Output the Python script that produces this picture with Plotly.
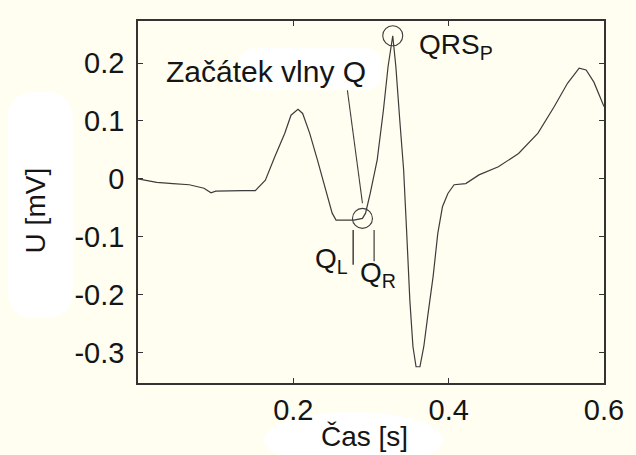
"""ECG detail: QRS onset detection, drawn as a single annotated trace."""

import plotly.graph_objects as go

TIME_S = [
    0.000, 0.010, 0.024, 0.045, 0.066, 0.085, 0.094, 0.100, 0.117, 0.135,
    0.151, 0.164, 0.176, 0.189, 0.197, 0.206, 0.212, 0.221, 0.231, 0.242,
    0.250, 0.255, 0.266, 0.278, 0.289, 0.293, 0.299, 0.308, 0.316, 0.322,
    0.328, 0.332, 0.337, 0.342, 0.346, 0.350, 0.354, 0.358, 0.363, 0.368,
    0.373, 0.380, 0.386, 0.392, 0.399, 0.407, 0.422, 0.439, 0.464, 0.490,
    0.515, 0.536, 0.553, 0.568, 0.577, 0.587, 0.600,
]
VOLTAGE_MV = [
    0.000, -0.002, -0.006, -0.008, -0.010, -0.016, -0.024, -0.021, -0.020, -0.020,
    -0.020, -0.002, 0.038, 0.079, 0.110, 0.120, 0.113, 0.079, 0.033, -0.019,
    -0.059, -0.071, -0.071, -0.071, -0.068, -0.059, -0.025, 0.033, 0.119, 0.194,
    0.247, 0.194, 0.102, 0.016, -0.094, -0.209, -0.289, -0.324, -0.324, -0.289,
    -0.237, -0.168, -0.094, -0.048, -0.025, -0.010, -0.008, 0.007, 0.021, 0.044,
    0.079, 0.125, 0.165, 0.191, 0.188, 0.167, 0.125,
]

X_TICKS = [0.2, 0.4, 0.6]
X_TICK_TEXT = ["0.2", "0.4", "0.6"]
Y_TICKS = [-0.3, -0.2, -0.1, 0.0, 0.1, 0.2]
Y_TICK_TEXT = ["-0.3", "-0.2", "-0.1", "0", "0.1", "0.2"]

Q_ONSET_IDX = 24          # sample marked as the start of the Q wave
QRS_PEAK_IDX = VOLTAGE_MV.index(max(VOLTAGE_MV))

PAPER = "#FFFEF1"
INK = "#151515"
TRACE = "#3C3C3C"
FONT = "Liberation Sans, Arial, sans-serif"

# plot area in pixels, used to place the white label blobs
L, R, T, B = 138, 610, 21, 383
W_PX, H_PX = R - L, B - T


def _px(x, y):
    return (x - L) / W_PX, (B - y) / H_PX


def blob(x0, y0, x1, y1, r):
    """Rounded white patch (paper coords) like the pasted label backgrounds."""
    pts = [
        ("M", x0 + r, y0), ("L", x1 - r, y0), ("Q", x1, y0, x1, y0 + r),
        ("L", x1, y1 - r), ("Q", x1, y1, x1 - r, y1), ("L", x0 + r, y1),
        ("Q", x0, y1, x0, y1 - r), ("L", x0, y0 + r), ("Q", x0, y0, x0 + r, y0),
    ]
    parts = []
    for p in pts:
        cmd, coords = p[0], p[1:]
        xy = []
        for i in range(0, len(coords), 2):
            px, py = _px(coords[i], coords[i + 1])
            xy.append(f"{px:.4f},{py:.4f}")
        parts.append(cmd + " ".join(xy))
    return dict(
        type="path", xref="paper", yref="paper", path=" ".join(parts) + " Z",
        fillcolor="white", line_width=0, layer="below",
    )


fig = go.Figure(
    go.Scatter(
        x=TIME_S,
        y=VOLTAGE_MV,
        mode="lines",
        line=dict(color=TRACE, width=1.2),
        hoverinfo="skip",
    )
)

shapes = [
    blob(6, 92, 72, 318, 28),
    blob(240, 48, 386, 90, 20),
    dict(type="circle", xref="paper", yref="paper",
         x0=_px(265, 0)[0], x1=_px(447, 0)[0], y0=_px(0, 412)[1], y1=_px(0, 468)[1],
         fillcolor="white", line_width=0, layer="below"),
]
for idx in (Q_ONSET_IDX, QRS_PEAK_IDX):
    shapes.append(dict(
        type="circle", xref="x", yref="y",
        xsizemode="pixel", ysizemode="pixel",
        xanchor=TIME_S[idx], yanchor=VOLTAGE_MV[idx],
        x0=-10, x1=10, y0=-10, y1=10,
        line=dict(color=TRACE, width=1.1),
    ))
# leader from the label and the two Q-boundary bars
shapes += [
    dict(type="line", xref="x", yref="y", x0=0.2696, y0=0.153, x1=0.289, y1=-0.042,
         line=dict(color=TRACE, width=1.1)),
    dict(type="line", xref="x", yref="y", x0=0.277, y0=-0.088, x1=0.277, y1=-0.148,
         line=dict(color=INK, width=1.2)),
    dict(type="line", xref="x", yref="y", x0=0.304, y0=-0.088, x1=0.304, y1=-0.142,
         line=dict(color=TRACE, width=1.2)),
]

annotations = [
    dict(text="Začátek vlny Q", x=0.034, y=0.186, xanchor="left", yanchor="middle",
         font=dict(size=30)),
    dict(text="QRS<sub>P</sub>", x=0.359, y=0.228, xanchor="left", yanchor="middle",
         font=dict(size=28)),
    dict(text="Q<sub>L</sub>", x=0.225, y=-0.140, xanchor="left", yanchor="middle",
         font=dict(size=28)),
    dict(text="Q<sub>R</sub>", x=0.283, y=-0.165, xanchor="left", yanchor="middle",
         font=dict(size=28)),
    dict(text="Čas [s]", xref="paper", yref="paper", x=0.485, y=-0.149,
         xanchor="center", yanchor="middle", font=dict(size=28)),
    dict(text="U [mV]", xref="paper", yref="paper", x=-0.218, y=0.478,
         xanchor="center", yanchor="middle", textangle=-90, font=dict(size=28)),
]
for a in annotations:
    a.setdefault("xref", "x")
    a.setdefault("yref", "y")
    a["showarrow"] = False
    a["font"] = dict(family=FONT, color=INK, **a["font"])

axis_common = dict(
    showgrid=False,
    zeroline=False,
    showline=True,
    linecolor="#333333",
    linewidth=1.5,
    mirror="ticks",
    ticks="inside",
    ticklen=5,
    tickwidth=1,
    tickcolor="#333333",
    tickfont=dict(family=FONT, size=29, color=INK),
)

fig.update_layout(
    width=636,
    height=455,
    margin=dict(l=L, r=636 - R, t=T, b=455 - B),
    paper_bgcolor=PAPER,
    plot_bgcolor=PAPER,
    showlegend=False,
    shapes=shapes,
    annotations=annotations,
    xaxis=dict(axis_common, range=[0, 0.6], tickvals=X_TICKS, ticktext=X_TICK_TEXT,
               ticklabelstandoff=0),
    yaxis=dict(axis_common, range=[-0.352, 0.2725], tickvals=Y_TICKS,
               ticktext=Y_TICK_TEXT, ticklabelstandoff=6),
)

# the page body's default 8px margin would push the figure off the window
fig.write_html(
    "out.html",
    config={"displayModeBar": False},
    post_script="document.body.style.margin = '0';",
)
